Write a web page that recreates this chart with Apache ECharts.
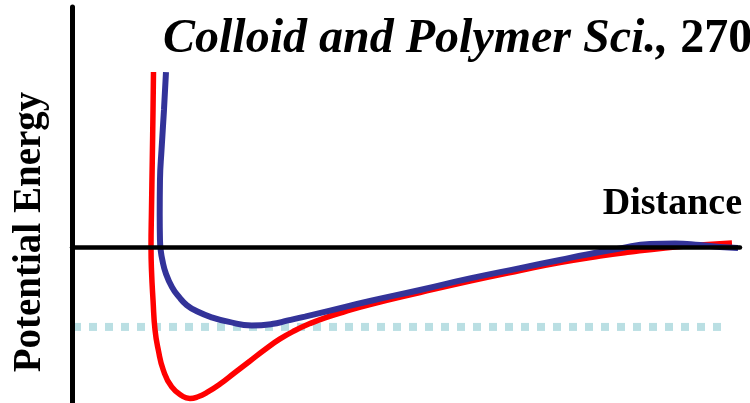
<!DOCTYPE html>
<html>
<head>
<meta charset="utf-8">
<script src="https://cdn.jsdelivr.net/npm/echarts@6/dist/echarts.min.js"></script>
<style>html,body{margin:0;padding:0;background:#fff}#c{width:750px;height:403px}</style>
</head>
<body>
<div id="c"></div>
<script>
// Distance (arbitrary units) vs potential energy (arbitrary units)
const redCurve = [
  [1.220, 7.29], [1.213, 5.71], [1.202, 3.63], [1.190, 1.54], [1.183, 0.00],
  [1.190, -0.96], [1.213, -2.21], [1.243, -3.46], [1.292, -4.29], [1.367, -5.13],
  [1.493, -5.83], [1.662, -6.23], [1.766, -6.31], [1.886, -6.24], [2.021, -6.06],
  [2.216, -5.71], [2.440, -5.23], [2.665, -4.75], [2.889, -4.27], [3.114, -3.83],
  [3.338, -3.48], [3.563, -3.19], [3.787, -2.95], [4.087, -2.69], [4.461, -2.40],
  [5.210, -1.90], [5.958, -1.42], [6.707, -0.98], [7.305, -0.65], [7.904, -0.38],
  [8.353, -0.21], [8.877, -0.04], [9.401, 0.08], [9.880, 0.17]
];
const blueCurve = [
  [1.407, 7.29], [1.377, 5.71], [1.340, 4.04], [1.317, 2.79], [1.313, 1.33],
  [1.317, 0.29], [1.328, -0.13], [1.352, -0.54], [1.403, -1.08], [1.497, -1.67],
  [1.602, -2.08], [1.717, -2.42], [1.886, -2.70], [2.091, -2.93], [2.335, -3.11],
  [2.690, -3.27], [2.990, -3.21], [3.234, -3.06], [3.488, -2.90], [3.862, -2.65],
  [4.461, -2.25], [5.210, -1.79], [5.958, -1.31], [6.707, -0.88], [7.305, -0.54],
  [7.710, -0.31], [8.204, -0.06], [8.653, 0.13], [9.027, 0.15], [9.401, 0.08],
  [9.701, 0.00], [9.970, -0.04]
];
const levelLine = [[0.015, -3.33], [9.716, -3.33]];
const xRange = [0, 10];
const yRange = [-6.5, 10];
const titleMain = 'Colloid and Polymer Sci.,';
const titleVol = '270';
const xName = 'Distance';
const yName = 'Potential Energy';

const chart = echarts.init(document.getElementById('c'), null, {renderer: 'canvas'});
chart.setOption({
  animation: false,
  backgroundColor: '#ffffff',
  grid: {left: 72, right: 10, top: 7, bottom: 0, containLabel: false},
  xAxis: {
    type: 'value', min: xRange[0], max: xRange[1], z: 10,
    axisLine: {show: true, onZero: true, lineStyle: {color: '#000', width: 4.5}},
    axisTick: {show: false}, axisLabel: {show: false}, splitLine: {show: false}
  },
  yAxis: {
    type: 'value', min: yRange[0], max: yRange[1], z: 10,
    axisLine: {show: true, onZero: false, lineStyle: {color: '#000', width: 5}},
    axisTick: {show: false}, axisLabel: {show: false}, splitLine: {show: false}
  },
  graphic: [
    {type: 'text', left: 163, top: 16, z: 20,
      style: {text: '{i|' + titleMain + '} {b|' + titleVol + '}',
        rich: {
          i: {fontFamily: 'Liberation Serif', fontStyle: 'italic', fontWeight: 'bold', fontSize: 48, fill: '#000'},
          b: {fontFamily: 'Liberation Serif', fontWeight: 'bold', fontSize: 48, fill: '#000'}
        },
        fontFamily: 'Liberation Serif', fontSize: 48, fontWeight: 'bold', fill: '#000'}},
    {type: 'text', x: 742, y: 185, z: 20,
      style: {text: xName, font: 'bold 38px "Liberation Serif"', fill: '#000',
        align: 'right', verticalAlign: 'top'}},
    {type: 'text', x: 30, y: 232, rotation: Math.PI / 2, z: 20,
      style: {text: yName, font: 'bold 39px "Liberation Serif"', fill: '#000',
        align: 'center', verticalAlign: 'middle'}}
  ],
  series: [
    {type: 'line', data: levelLine, showSymbol: false, z: 1,
      lineStyle: {color: '#badfe3', width: 8, type: [8, 8], cap: 'butt'}},
    {type: 'line', data: redCurve, showSymbol: false, smooth: 0.5, z: 2,
      lineStyle: {color: '#ff0000', width: 5.5}},
    {type: 'line', data: blueCurve, showSymbol: false, smooth: 0.5, z: 3,
      lineStyle: {color: '#333399', width: 6}}
  ]
});
</script>
</body>
</html>
